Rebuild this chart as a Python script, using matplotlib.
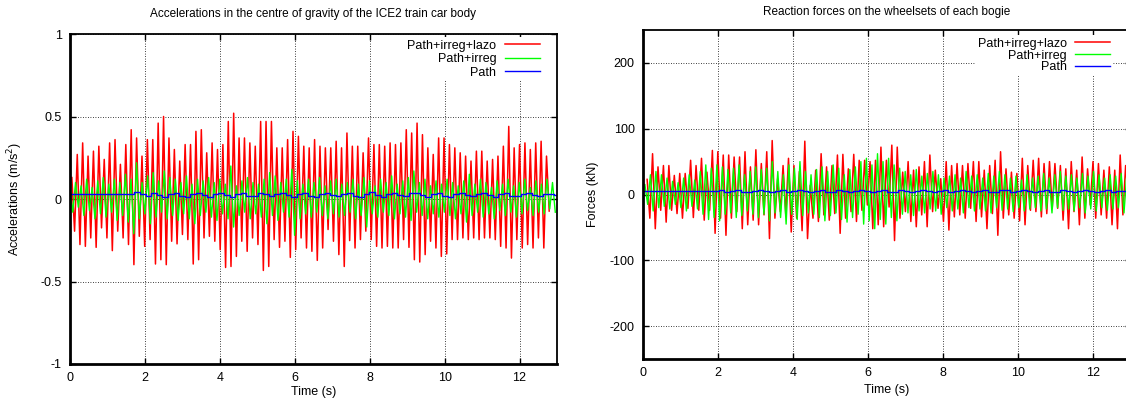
import numpy as np
import matplotlib
matplotlib.use("Agg")
import matplotlib.pyplot as plt

plt.rcParams['font.family'] = ['Liberation Sans', 'DejaVu Sans']
plt.rcParams['font.size'] = 9

# ---- left panel: accelerations (m/s^2), extremes ----
acc_red_peaks = [0.13, 0.27, 0.34, 0.26, 0.29, 0.32, 0.24, 0.34, 0.36, 0.21,
                 0.33, 0.42, 0.37, 0.26, 0.36, 0.36, 0.46, 0.50, 0.37, 0.30,
                 0.23, 0.33, 0.33, 0.41, 0.42, 0.28, 0.34, 0.30, 0.33, 0.47,
                 0.52, 0.37, 0.37, 0.34, 0.32, 0.47, 0.47, 0.47, 0.31, 0.31,
                 0.36, 0.41, 0.38, 0.32, 0.31, 0.36, 0.32, 0.31, 0.31, 0.35,
                 0.31, 0.40, 0.32, 0.32, 0.28, 0.37, 0.33, 0.33, 0.32, 0.34,
                 0.33, 0.34, 0.42, 0.40, 0.46, 0.39, 0.31, 0.27, 0.37, 0.37,
                 0.33, 0.31, 0.28, 0.26, 0.23, 0.29, 0.29, 0.23, 0.24, 0.26,
                 0.32, 0.44, 0.31, 0.33, 0.34, 0.30, 0.34, 0.35, 0.26]
acc_red_troughs = [-0.195, -0.276, -0.287, -0.236, -0.293, -0.175, -0.236, -0.313, -0.195, -0.236,
                   -0.276, -0.398, -0.226, -0.287, -0.246, -0.394, -0.368, -0.398, -0.256, -0.272,
                   -0.215, -0.246, -0.394, -0.368, -0.236, -0.226, -0.256, -0.307, -0.415, -0.409,
                   -0.348, -0.256, -0.317, -0.236, -0.276, -0.433, -0.409, -0.246, -0.293, -0.256,
                   -0.354, -0.307, -0.236, -0.297, -0.317, -0.372, -0.297, -0.185, -0.256, -0.337,
                   -0.409, -0.252, -0.297, -0.246, -0.195, -0.246, -0.287, -0.297, -0.287, -0.297,
                   -0.297, -0.246, -0.293, -0.368, -0.382, -0.337, -0.256, -0.297, -0.348, -0.333,
                   -0.246, -0.246, -0.236, -0.246, -0.236, -0.246, -0.236, -0.236, -0.246, -0.287,
                   -0.297, -0.358, -0.246, -0.297, -0.276, -0.297, -0.236, -0.297, -0.073]

acc_green_peaks = [0.06, 0.10, 0.08, 0.12, 0.07, 0.11, 0.13, 0.09, 0.12, 0.10,
                   0.15, 0.12, 0.22, 0.10, 0.14, 0.16, 0.11, 0.17, 0.13, 0.12,
                   0.10, 0.14, 0.09, 0.12, 0.11, 0.13, 0.10, 0.12, 0.09, 0.20,
                   0.08, 0.11, 0.13, 0.10, 0.09, 0.12, 0.16, 0.14, 0.10, 0.12,
                   0.18, 0.11, 0.09, 0.12, 0.10, 0.13, 0.08, 0.11, 0.12, 0.09,
                   0.10, 0.12, 0.09, 0.13, 0.11, 0.08, 0.12, 0.10, 0.14, 0.09,
                   0.11, 0.13, 0.17, 0.10, 0.12, 0.08, 0.11, 0.09, 0.12, 0.10,
                   0.08, 0.11, 0.15, 0.09, 0.12, 0.10, 0.07, 0.11, 0.09, 0.12,
                   0.08, 0.10, 0.12, 0.07, 0.11, 0.09, 0.12, 0.10]
acc_green_troughs = [-0.08, -0.05, -0.10, -0.07, -0.12, -0.09, -0.11, -0.08, -0.13, -0.10,
                     -0.14, -0.21, -0.12, -0.09, -0.15, -0.11, -0.08, -0.12, -0.10, -0.13,
                     -0.09, -0.12, -0.15, -0.10, -0.08, -0.11, -0.13, -0.09, -0.12, -0.17,
                     -0.10, -0.08, -0.12, -0.09, -0.11, -0.15, -0.10, -0.13, -0.08, -0.11,
                     -0.22, -0.12, -0.09, -0.11, -0.08, -0.10, -0.12, -0.09, -0.11, -0.10,
                     -0.08, -0.12, -0.10, -0.17, -0.09, -0.11, -0.08, -0.10, -0.12, -0.09,
                     -0.11, -0.13, -0.08, -0.10, -0.12, -0.09, -0.11, -0.08, -0.10, -0.12,
                     -0.09, -0.14, -0.10, -0.08, -0.11, -0.09, -0.12, -0.07, -0.10, -0.08,
                     -0.11, -0.09, -0.07, -0.10, -0.08, -0.09, -0.06, -0.08]

acc_blue = [0.028] * 12 + [
    0.040, 0.030, 0.018, 0.035, 0.025, 0.015, 0.030, 0.038, 0.020, 0.012,
    0.030, 0.036, 0.022, 0.015, 0.032, 0.038, 0.025, 0.014, 0.030, 0.036,
    0.020, 0.016, 0.034, 0.030, 0.018, 0.030, 0.038, 0.022, 0.014, 0.032,
    0.036, 0.020, 0.015, 0.030, 0.038, 0.024, 0.016, 0.032, 0.036, 0.020,
    0.014, 0.030, 0.040, 0.026, 0.015, 0.032, 0.036, 0.022, 0.016, 0.034,
    0.038, 0.024, 0.014, 0.030, 0.036, 0.020, 0.015, 0.032, 0.038, 0.022,
    0.016, 0.030, 0.036, 0.024, 0.015, 0.032, 0.036, 0.020, 0.016, 0.030,
    0.034, 0.022, 0.018, 0.032, 0.030, 0.024]

# ---- right panel: reaction forces (kN) ----
f_red_peaks = [23, 62, 42, 44, 44, 29, 32, 32, 52, 44,
               55, 34, 67, 65, 60, 60, 57, 57, 65, 42,
               68, 47, 65, 82, 24, 44, 55, 44, 35, 81,
               14, 37, 62, 42, 44, 60, 61, 39, 61, 52,
               52, 50, 52, 72, 52, 75, 72, 34, 50, 37,
               42, 50, 60, 37, 24, 50, 44, 47, 44, 47,
               50, 50, 37, 44, 52, 65, 39, 34, 32, 55,
               44, 52, 55, 47, 50, 47, 44, 39, 50, 37,
               57, 39, 50, 47, 37, 42, 37, 60, 44]
f_red_troughs = [-36, -52, -24, -42, -24, -29, -36, -21, -35, -24,
                 -39, -24, -59, -36, -62, -36, -26, -52, -46, -39,
                 -46, -31, -67, -36, -26, -31, -57, -36, -55, -67,
                 -36, -41, -31, -39, -29, -59, -36, -26, -41, -24,
                 -16, -52, -46, -49, -19, -70, -36, -26, -41, -49,
                 -31, -49, -26, -21, -41, -54, -34, -31, -36, -21,
                 -41, -34, -52, -29, -62, -36, -31, -36, -40, -46,
                 -24, -26, -34, -29, -21, -21, -39, -52, -26, -46,
                 -36, -16, -36, -31, -36, -46, -52, -31, -9]

f_green_peaks = [15, 30, 35, 30, 25, 20, 18, 25, 30, 22,
                 35, 45, 40, 45, 42, 38, 40, 45, 30, 35,
                 42, 38, 40, 50, 35, 30, 45, 40, 50, 35,
                 30, 38, 42, 35, 45, 40, 30, 38, 42, 50,
                 55, 45, 62, 50, 55, 45, 40, 35, 30, 38,
                 28, 32, 35, 30, 25, 28, 30, 25, 35, 28,
                 30, 25, 32, 28, 35, 30, 25, 28, 22, 30,
                 25, 28, 32, 25, 30, 35, 28, 30, 25, 32,
                 28, 35, 30, 25, 30, 28, 32, 30]
f_green_troughs = [-15, -25, -20, -18, -22, -15, -20, -25, -18, -22,
                   -30, -38, -35, -40, -30, -28, -35, -32, -25, -30,
                   -35, -30, -40, -28, -35, -45, -30, -38, -32, -28,
                   -30, -35, -40, -32, -28, -38, -42, -35, -30, -45,
                   -40, -52, -38, -45, -35, -40, -30, -28, -32, -25,
                   -28, -22, -25, -30, -20, -25, -22, -28, -20, -25,
                   -22, -25, -28, -20, -24, -22, -26, -20, -25, -22,
                   -20, -25, -22, -28, -20, -24, -22, -25, -20, -28,
                   -22, -25, -20, -24, -22, -20, -28, -25]

f_blue = [5.0] * 14 + [
    6.5, 4.0, 5.5, 7.0, 4.5, 3.5, 6.0, 7.0, 5.0, 3.5,
    6.0, 6.5, 4.0, 5.0, 7.0, 5.5, 3.5, 6.0, 6.5, 4.5,
    4.0, 6.5, 6.0, 3.5, 5.0, 7.0, 5.0, 4.0, 6.0, 6.5,
    4.5, 3.5, 6.5, 6.0, 4.0, 5.5, 7.0, 5.0, 3.5, 6.0,
    6.5, 4.0, 5.0, 7.0, 5.5, 3.5, 6.0, 6.5, 4.5, 4.0,
    6.5, 7.5, 4.0, 5.0, 7.0, 5.5, 3.5, 6.0, 6.5, 4.5,
    4.0, 6.5, 6.0, 3.5, 5.0, 7.0, 5.0, 4.0, 6.0, 6.5,
    4.5, 5.0, 6.0, 5.5]

labels = ["Path+irreg+lazo", "Path+irreg", "Path"]
colors = ["#ff0000", "#00ff00", "#0000ff"]


def zigzag(peaks, troughs, t0, t1):
    # peaks and troughs alternate in time
    tp = np.linspace(t0, t1, len(peaks))
    dt = (tp[1] - tp[0]) / 2
    tt = tp[:len(troughs)] + dt
    t = np.concatenate([tp, tt])
    v = np.concatenate([peaks, troughs])
    order = np.argsort(t)
    return t[order], v[order]


def style(ax, ylim, yticks, yticklabels):
    ax.set_xlim(0, 13)
    ax.set_ylim(*ylim)
    ax.set_xticks(range(0, 13, 2))
    ax.set_yticks(yticks)
    ax.set_yticklabels(yticklabels)
    ax.tick_params(direction='in', top=True, right=True, length=4, width=1,
                   labelsize=9, pad=6)
    ax.grid(True, color='k', linestyle=(0, (1, 2)), linewidth=0.6)
    for s in ['left', 'bottom']:
        ax.spines[s].set_linewidth(2)
    for s in ['top', 'right']:
        ax.spines[s].set_linewidth(1.3)
    ax.set_xlabel("Time (s)")


fig = plt.figure(figsize=(11.26, 4.04), dpi=100)

ax1 = fig.add_axes([70 / 1126, 40 / 404, 487 / 1126, 330 / 404])
t, v = zigzag(acc_red_peaks, acc_red_troughs, 0.05, 12.72)
ax1.plot(t, v, color=colors[0], lw=1.1, label=labels[0])
t, v = zigzag(acc_green_peaks, acc_green_troughs, 0.0, 12.88)
ax1.plot(t, v, color=colors[1], lw=1.0, label=labels[1])
tb = np.linspace(0, 13, len(acc_blue))
ax1.plot(tb, acc_blue, color=colors[2], lw=1.0, drawstyle='steps-mid', label=labels[2])
style(ax1, (-1, 1), [-1, -0.5, 0, 0.5, 1], ["-1", "-0.5", "0", "0.5", "1"])
ax1.set_ylabel("Accelerations (m/s$^2$)")
ax1.yaxis.set_label_coords(-0.093, 0.5)
ax1.xaxis.set_label_coords(0.5, -0.068)
ax1.text(0.5, 1 + 20 / 330, "Accelerations in the centre of gravity of the ICE2 train car body",
         transform=ax1.transAxes, ha='center', va='center', fontsize=8.5)
leg = ax1.legend(loc='upper right', bbox_to_anchor=(1 - 10 / 487, 1 + 2 / 330), markerfirst=False,
                 frameon=True, fancybox=False, framealpha=1, edgecolor='none',
                 handlelength=2.8, handletextpad=0.65, labelspacing=0.12,
                 borderpad=0.2, borderaxespad=0.4, fontsize=9)

ax2 = fig.add_axes([643 / 1126, 45 / 404, 487.5 / 1126, 329 / 404])
t, v = zigzag(f_red_peaks, f_red_troughs, 0.11, 12.87)
ax2.plot(t, v, color=colors[0], lw=1.1, label=labels[0])
t, v = zigzag(f_green_peaks, f_green_troughs, 0.05, 12.9)
ax2.plot(t, v, color=colors[1], lw=1.0, label=labels[1])
tb = np.linspace(0, 13, len(f_blue))
ax2.plot(tb, f_blue, color=colors[2], lw=1.0, drawstyle='steps-mid', label=labels[2])
style(ax2, (-250, 250), [-200, -100, 0, 100, 200], ["-200", "-100", "0", "100", "200"])
ax2.set_ylabel("Forces (kN)")
ax2.yaxis.set_label_coords(-0.09, 0.5)
ax2.xaxis.set_label_coords(0.5, -0.077)
ax2.text(0.5, 1 + 18 / 329, "Reaction forces on the wheelsets of each bogie",
         transform=ax2.transAxes, ha='center', va='center', fontsize=8.5)
leg = ax2.legend(loc='upper right', bbox_to_anchor=(1 - 13 / 487.5, 1), markerfirst=False,
                 frameon=True, fancybox=False, framealpha=1, edgecolor='none',
                 handlelength=2.8, handletextpad=0.65, labelspacing=0.0,
                 borderpad=0.2, borderaxespad=0.4, fontsize=9)

fig.savefig("out.png", dpi=100)
